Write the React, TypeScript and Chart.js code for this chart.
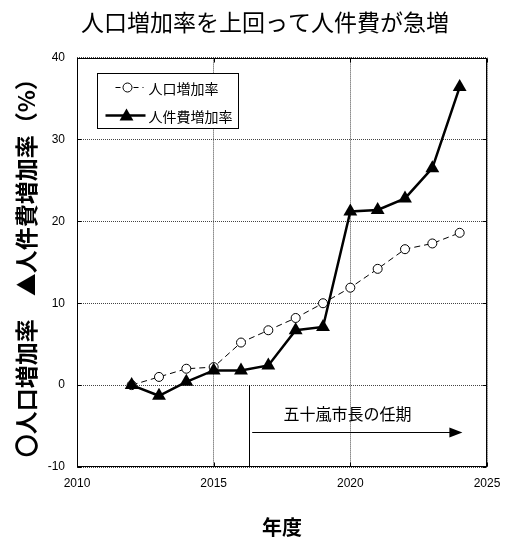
import { useEffect, useRef } from 'react';
import { Chart, registerables } from 'chart.js';

Chart.register(...registerables);

// ---- data ----
const years = [2012, 2013, 2014, 2015, 2016, 2017, 2018, 2019, 2020, 2021, 2022, 2023, 2024];
const populationRate = [0, 1.0, 2.0, 2.2, 5.2, 6.7, 8.2, 10.0, 11.9, 14.2, 16.6, 17.3, 18.6];
const laborCostRate = [0, -1.3, 0.4, 1.8, 1.8, 2.4, 6.7, 7.1, 21.2, 21.4, 22.8, 26.5, 36.4];
const seriesNames = ['人口増加率', '人件費増加率'];
const xMin = 2010;
const xMax = 2025;
const xStep = 5;
const yMin = -10;
const yMax = 40;
const yStep = 10;
const chartTitle = '人口増加率を上回って人件費が急増';
const xTitle = '年度';
const yTitle = '〇人口増加率　▲人件費増加率（%）';
const termStartYear = 2016.3;
const termArrowEndYear = 2024.1;
const termArrowValue = -5.7;
const termLabelYear = 2019.9;
const termLabelValue = -3.5;
const termLabel = '五十嵐市長の任期';

const JP = '"Noto Sans CJK JP", "Noto Sans", sans-serif';
const LAT = '"Liberation Sans", Arial, sans-serif';

const decorPlugin = {
  id: 'decor',
  beforeDatasetsDraw(chart: any) {
    const { ctx, chartArea: a } = chart;
    const L = Math.round(a.left) + 0.5;
    const T = Math.round(a.top) + 0.5;
    const R = Math.round(a.right) - 0.5;
    const B = Math.round(a.bottom) - 0.5;
    ctx.save();
    ctx.strokeStyle = '#000';
    ctx.lineWidth = 1;
    ctx.setLineDash([]);
    ctx.strokeRect(L, T, R - L, B - T);
    // inward ticks
    const ys = chart.scales.y;
    const xs = chart.scales.x;
    ctx.beginPath();
    for (let v = yMin; v <= yMax; v += yStep) {
      const py = Math.round(ys.getPixelForValue(v)) + 0.5;
      ctx.moveTo(L, py);
      ctx.lineTo(L + 4, py);
      ctx.moveTo(R, py);
      ctx.lineTo(R - 4, py);
    }
    for (let v = xMin; v <= xMax; v += xStep) {
      const px = Math.round(xs.getPixelForValue(v)) + 0.5;
      ctx.moveTo(px, B);
      ctx.lineTo(px, B - 4);
      ctx.moveTo(px, T);
      ctx.lineTo(px, T + 4);
    }
    ctx.stroke();
    ctx.restore();
  },
  afterDatasetsDraw(chart: any) {
    const { ctx, chartArea: a } = chart;
    const xs = chart.scales.x;
    const ys = chart.scales.y;
    ctx.save();
    ctx.strokeStyle = '#000';
    ctx.fillStyle = '#000';
    ctx.lineWidth = 1;
    ctx.setLineDash([]);
    // term start vertical line
    const vx = Math.round(xs.getPixelForValue(termStartYear)) + 0.5;
    ctx.beginPath();
    ctx.moveTo(vx, ys.getPixelForValue(0));
    ctx.lineTo(vx, a.bottom);
    ctx.stroke();
    // arrow
    const ay = Math.round(ys.getPixelForValue(termArrowValue)) + 0.5;
    const ax1 = xs.getPixelForValue(termStartYear) + 3;
    const ax2 = xs.getPixelForValue(termArrowEndYear);
    ctx.beginPath();
    ctx.moveTo(ax1, ay);
    ctx.lineTo(ax2 - 10, ay);
    ctx.stroke();
    ctx.beginPath();
    ctx.moveTo(ax2, ay);
    ctx.lineTo(ax2 - 13, ay - 5);
    ctx.lineTo(ax2 - 13, ay + 5);
    ctx.closePath();
    ctx.fill();
    // term label
    ctx.font = `16px ${JP}`;
    ctx.textAlign = 'center';
    ctx.textBaseline = 'middle';
    ctx.fillText(termLabel, xs.getPixelForValue(termLabelYear), ys.getPixelForValue(termLabelValue));

    // legend
    const bx = Math.round(a.left + 20) + 0.5;
    const by = Math.round(a.top + 15) + 0.5;
    const bw = 141;
    const bh = 55;
    ctx.fillStyle = '#fff';
    ctx.fillRect(bx, by, bw, bh);
    ctx.strokeStyle = '#000';
    ctx.strokeRect(bx, by, bw, bh);
    ctx.fillStyle = '#000';
    // row 1: population
    const r1 = by + 14;
    ctx.setLineDash([5, 4]);
    ctx.beginPath();
    ctx.moveTo(bx + 18, r1);
    ctx.lineTo(bx + 46, r1);
    ctx.stroke();
    ctx.setLineDash([]);
    ctx.beginPath();
    ctx.arc(bx + 30, r1, 4.5, 0, Math.PI * 2);
    ctx.fillStyle = '#fff';
    ctx.fill();
    ctx.stroke();
    ctx.fillStyle = '#000';
    // row 2: labor cost
    const r2 = by + 42;
    ctx.lineWidth = 2.5;
    ctx.beginPath();
    ctx.moveTo(bx + 8, r2);
    ctx.lineTo(bx + 48, r2);
    ctx.stroke();
    const tr = 8;
    const tx = bx + 29;
    const ty = r2 + 1;
    ctx.beginPath();
    ctx.moveTo(tx, ty - tr);
    ctx.lineTo(tx + Math.sin((2 * Math.PI) / 3) * tr, ty + tr / 2);
    ctx.lineTo(tx - Math.sin((2 * Math.PI) / 3) * tr, ty + tr / 2);
    ctx.closePath();
    ctx.fill();
    ctx.font = `14px ${JP}`;
    ctx.textAlign = 'left';
    ctx.textBaseline = 'middle';
    ctx.fillText(seriesNames[0], bx + 51, r1 + 1);
    ctx.fillText(seriesNames[1], bx + 51, r2 + 1);
    ctx.restore();
  },
};

export default function App() {
  const ref = useRef<HTMLCanvasElement | null>(null);
  useEffect(() => {
    if (!ref.current) return;
    const chart = new Chart(ref.current, {
      type: 'line',
      data: {
        datasets: [
          {
            label: seriesNames[0],
            data: years.map((y, i) => ({ x: y, y: populationRate[i] })),
            borderColor: '#000',
            borderWidth: 1,
            borderDash: [6, 4],
            pointStyle: 'circle',
            pointRadius: 4.5,
            pointBackgroundColor: '#fff',
            pointBorderColor: '#000',
            pointBorderWidth: 1,
            tension: 0,
            order: 2,
          },
          {
            label: seriesNames[1],
            data: years.map((y, i) => ({ x: y, y: laborCostRate[i] })),
            borderColor: '#000',
            borderWidth: 2.5,
            pointStyle: 'triangle',
            pointRadius: 8,
            pointBackgroundColor: '#000',
            pointBorderColor: '#000',
            pointBorderWidth: 0,
            tension: 0,
            order: 1,
          },
        ],
      },
      options: {
        responsive: false,
        animation: false,
        layout: { padding: 0 },
        plugins: {
          legend: { display: false },
          tooltip: { enabled: false },
          title: {
            display: true,
            text: chartTitle,
            color: '#000',
            font: { family: JP, size: 23, weight: 'normal' },
            padding: { top: 8, bottom: 22 },
          },
        },
        scales: {
          x: {
            type: 'linear',
            min: xMin,
            max: xMax,
            ticks: {
              stepSize: xStep,
              color: '#000',
              font: { family: LAT, size: 12 },
              padding: 9,
              maxRotation: 0,
              callback: (v: any) => String(v),
            },
            grid: { color: '#444', lineWidth: 1, drawTicks: false },
            border: { display: false, dash: [1, 1] },
            title: {
              display: true,
              text: xTitle,
              color: '#000',
              font: { family: JP, size: 20, weight: 'bold' },
              padding: { top: 0, bottom: 5 },
            },
            afterFit: (s: any) => {
              s.height = 77;
            },
          },
          y: {
            type: 'linear',
            min: yMin,
            max: yMax,
            ticks: {
              stepSize: yStep,
              color: '#000',
              font: { family: LAT, size: 12 },
              padding: 12,
            },
            grid: { color: '#444', lineWidth: 1, drawTicks: false },
            border: { display: false, dash: [1, 1] },
            title: {
              display: true,
              text: yTitle,
              color: '#000',
              font: { family: JP, size: 23, weight: 'bold' },
              padding: { top: 12, bottom: 0 },
            },
            afterFit: (s: any) => {
              s.width = 77;
            },
          },
          yRight: {
            type: 'linear',
            position: 'right',
            min: yMin,
            max: yMax,
            display: true,
            ticks: { display: false },
            grid: { display: false, drawOnChartArea: false, drawTicks: false },
            border: { display: false },
            afterFit: (s: any) => {
              s.width = 43;
            },
          },
        },
      },
      plugins: [decorPlugin],
    } as any);
    return () => chart.destroy();
  }, []);
  return (
    <div style={{ position: 'absolute', left: 0, top: 0, width: 530, height: 544, background: '#fff' }}>
      <canvas ref={ref} width={530} height={544} />
    </div>
  );
}
